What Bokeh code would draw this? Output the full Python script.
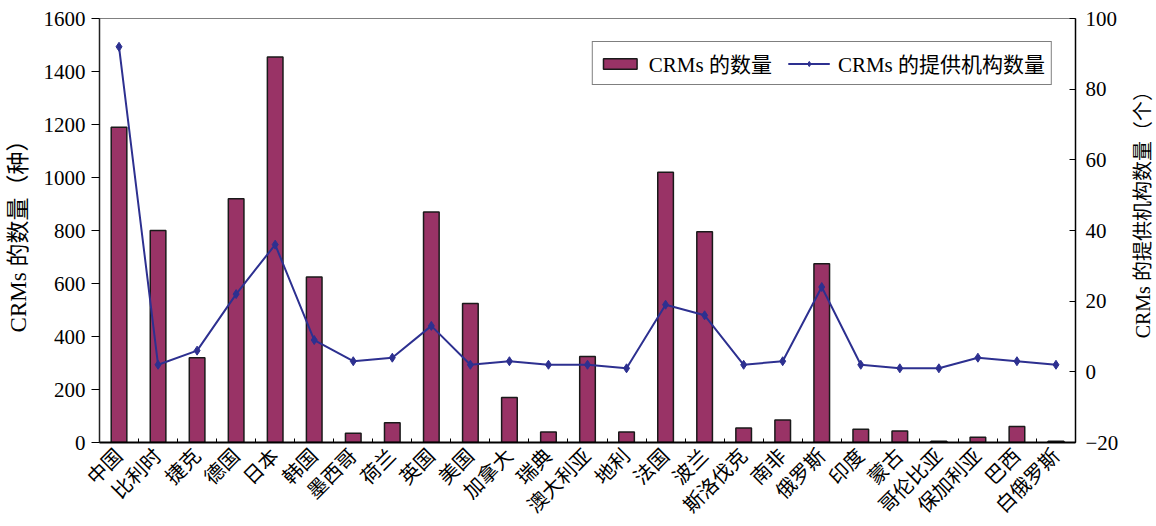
import math
from bokeh.plotting import figure
from bokeh.layouts import row
from bokeh.models import (Range1d, LinearAxis, SingleIntervalTicker, FixedTicker,
                          Legend, LegendItem, ColumnDataSource, Label)
from bokeh.embed import file_html
from bokeh.resources import INLINE

# ---------------- data ----------------
countries = ["中国", "比利时", "捷克", "德国", "日本", "韩国", "墨西哥", "荷兰", "英国", "美国",
             "加拿大", "瑞典", "澳大利亚", "地利", "法国", "波兰", "斯洛伐克", "南非", "俄罗斯",
             "印度", "蒙古", "哥伦比亚", "保加利亚", "巴西", "白俄罗斯"]
crm_counts = [1190, 800, 320, 920, 1455, 625, 35, 75, 870, 525,
              170, 40, 325, 40, 1020, 795, 55, 85, 675,
              50, 43, 5, 20, 60, 5]
provider_counts = [92, 2, 6, 22, 36, 9, 3, 4, 13, 2,
                   3, 2, 2, 1, 19, 16, 2, 3, 24,
                   2, 1, 1, 4, 3, 2]
left_label = "CRMs 的数量（种）"
right_label = "CRMs 的提供机构数量（个）"
bar_legend = "CRMs 的数量"
line_legend = "CRMs 的提供机构数量"

FONT = "Liberation Serif, Noto Sans CJK SC"
BAR_COLOR = "#993366"
LINE_COLOR = "#2D3090"

n = len(countries)
xs = list(range(n))
src = ColumnDataSource(dict(x=xs, crm=crm_counts, prov=provider_counts))

TOTAL_H = 524
p = figure(frame_width=976, frame_height=424,
           x_range=Range1d(-0.5, n - 0.5), y_range=Range1d(0, 1600),
           output_backend="svg", toolbar_location=None,
           min_border_left=99, min_border_right=46,
           min_border_top=18, min_border_bottom=82)
p.extra_y_ranges = {"right": Range1d(-20, 100)}

p.background_fill_color = "white"
p.border_fill_color = "white"
p.outline_line_color = "#808080"
p.outline_line_width = 1
p.xgrid.visible = False
p.ygrid.visible = False

bars = p.vbar(x="x", top="crm", width=0.4, source=src,
              fill_color=BAR_COLOR, line_color="#1a1a1a", line_width=1.5)
line_r = p.line(x="x", y="prov", source=src, y_range_name="right",
                line_color=LINE_COLOR, line_width=2)
pts = p.scatter(x="x", y="prov", source=src, y_range_name="right",
                marker="diamond", size=9, fill_color=LINE_COLOR, line_color=LINE_COLOR)

# x axis
xax = p.xaxis[0]
xax.ticker = FixedTicker(ticks=xs, minor_ticks=[i + 0.5 for i in range(-1, n)])
xax.major_label_overrides = {i: c for i, c in zip(xs, countries)}
xax.major_label_orientation = math.pi / 4
xax.major_label_text_font = FONT
xax.major_label_text_font_size = "20px"
xax.major_label_text_color = "black"
xax.major_label_standoff = 10
xax.major_tick_in = 0
xax.major_tick_out = 0
xax.minor_tick_in = 4
xax.minor_tick_out = 0
xax.minor_tick_line_color = "black"
xax.axis_line_color = "black"
xax.axis_line_width = 2

# left axis
yax = p.yaxis[0]
yax.ticker = SingleIntervalTicker(interval=200, num_minor_ticks=0)
yax.axis_label = left_label
yax.axis_label_text_font = FONT
yax.axis_label_text_font_size = "23px"
yax.axis_label_text_font_style = "normal"
yax.axis_label_text_color = "black"
yax.axis_label_standoff = 10
yax.major_label_text_font = FONT
yax.major_label_text_font_size = "21px"
yax.major_label_text_color = "black"
yax.major_label_standoff = 6
yax.major_tick_in = 0
yax.major_tick_out = 8
yax.minor_tick_line_color = None
yax.axis_line_color = "#222222"
yax.axis_line_width = 1.5

# right axis
rax = LinearAxis(y_range_name="right",
                 ticker=SingleIntervalTicker(interval=20, num_minor_ticks=0))
rax.major_label_text_font = FONT
rax.major_label_text_font_size = "21px"
rax.major_label_text_color = "black"
rax.major_label_standoff = 10
rax.major_label_overrides = {-20: "−20"}
rax.major_tick_in = 6
rax.major_tick_out = 0
rax.minor_tick_line_color = None
rax.axis_line_color = "black"
rax.axis_line_width = 1.5
p.add_layout(rax, "right")

legend = Legend(items=[LegendItem(label=bar_legend, renderers=[bars]),
                       LegendItem(label=line_legend, renderers=[line_r, pts])],
                location="top_right", orientation="horizontal",
                margin=23, padding=6, spacing=16, label_standoff=8,
                glyph_width=42, glyph_height=13,
                label_text_font=FONT, label_text_font_size="21px",
                label_text_color="black",
                border_line_color="black", border_line_width=1,
                background_fill_color="white", background_fill_alpha=1)
p.add_layout(legend)

# narrow strip on the right carrying the right-axis title (reads bottom-to-top)
strip_w = 32
p2 = figure(width=strip_w, height=TOTAL_H,
            x_range=Range1d(0, strip_w), y_range=Range1d(0, TOTAL_H),
            output_backend="svg", toolbar_location=None,
            min_border=0, min_border_left=0, min_border_right=0,
            min_border_top=0, min_border_bottom=0)
p2.axis.visible = False
p2.xgrid.visible = False
p2.ygrid.visible = False
p2.outline_line_color = None
p2.background_fill_color = "white"
p2.border_fill_color = "white"
p2.add_layout(Label(x=21, y=TOTAL_H - 238, text=right_label,
                    angle=math.pi / 2, angle_units="rad",
                    text_align="center", text_baseline="middle",
                    text_font=FONT, text_font_size="20px", text_color="black"))

layout = row(p, p2)
open("out.html", "w").write(file_html(layout, INLINE))
